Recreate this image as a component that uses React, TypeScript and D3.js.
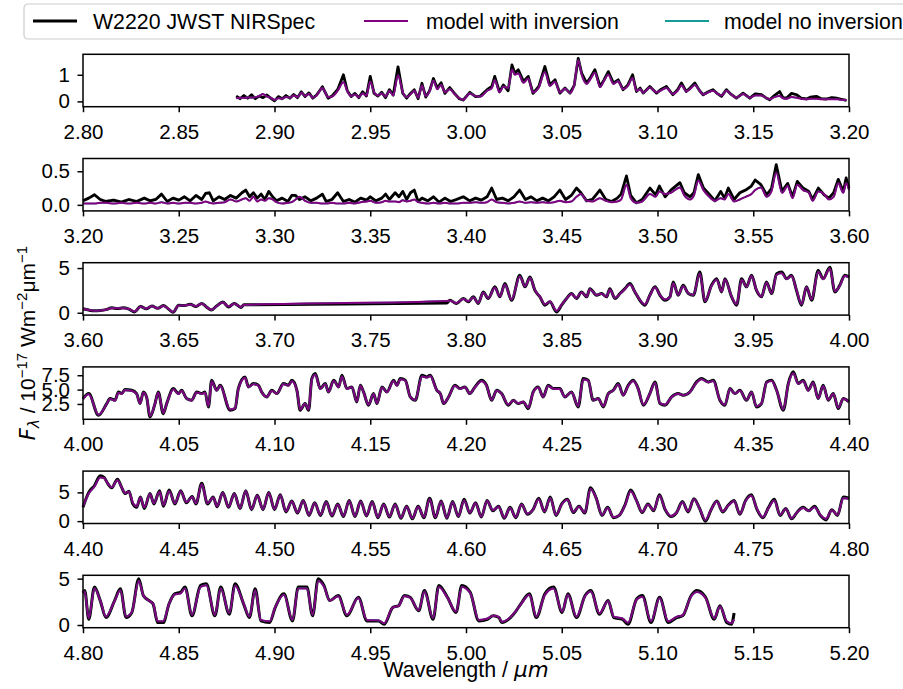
import React, { useEffect, useRef } from "react";
import * as d3 from "d3";

// wavelength windows (µm) and flux limits of the six rows
const panelRanges = [[2.8, 3.2], [3.2, 3.6], [3.6, 4.0], [4.0, 4.4], [4.4, 4.8], [4.8, 5.2]];
const panelYDomains = [[-0.2, 1.77], [-0.09, 0.69], [-0.26, 5.6], [-0.17, 8.95], [-0.41, 8.7], [-0.29, 5.36]];
const panelYTicks = [[0, 1], [0, 0.5], [0, 5], [2.5, 5, 7.5], [0, 5], [0, 5]];
const panelYFormats = ["d", ".1f", "d", ".1f", "d", "d"];
const panelErr = [0.05, 0.025, 0.08, 0.12, 0.12, 0.08];

const legendLabels = ["W2220 JWST NIRSpec", "model with inversion", "model no inversion"];

// row 1: 2.80 - 3.20
const p1Wave = [
  2.880, 2.882, 2.884, 2.886, 2.888, 2.890, 2.892, 2.894, 2.896, 2.898,
  2.900, 2.902, 2.904, 2.906, 2.908, 2.910, 2.912, 2.914, 2.916, 2.918,
  2.920, 2.922, 2.925, 2.928, 2.930, 2.933, 2.936, 2.938, 2.940, 2.942,
  2.944, 2.946, 2.948, 2.950, 2.952, 2.954, 2.956, 2.958, 2.960, 2.962,
  2.9645, 2.967, 2.969, 2.971, 2.973, 2.975, 2.977, 2.979, 2.981, 2.983,
  2.985, 2.987, 2.989, 2.9915, 2.994, 2.9965, 2.9985, 3.002, 3.005, 3.0075,
  3.011, 3.0135, 3.015, 3.0175, 3.0195, 3.022, 3.024, 3.0255, 3.0273, 3.030,
  3.0325, 3.035, 3.038, 3.0412, 3.0438, 3.0465, 3.049, 3.0517, 3.0543, 3.0565,
  3.0586, 3.0604, 3.063, 3.065, 3.0673, 3.070, 3.072, 3.0743, 3.077, 3.0795,
  3.082, 3.0845, 3.087, 3.089, 3.091, 3.0925, 3.096, 3.0995, 3.102, 3.1047,
  3.108, 3.1105, 3.1125, 3.115, 3.117, 3.1195, 3.122, 3.1238, 3.1265, 3.129,
  3.1315, 3.1334, 3.136, 3.1385, 3.1412, 3.1447, 3.1482, 3.151, 3.1543, 3.1565,
  3.1586, 3.161, 3.1638, 3.1655, 3.1673, 3.170, 3.1726, 3.175, 3.1778, 3.180,
  3.183, 3.1855, 3.1882, 3.191, 3.1934, 3.196, 3.1987,
];
const p1Flux = [
  0.20, 0.10, 0.22, 0.12, 0.25, 0.10, 0.20, 0.14, 0.24, 0.12,
  0.02, 0.18, 0.10, 0.22, 0.12, 0.26, 0.14, 0.36, 0.18, 0.32,
  0.12, 0.24, 0.55, 0.12, 0.20, 0.45, 1.00, 0.40, 0.18, 0.30,
  0.14, 0.36, 0.20, 0.94, 0.30, 0.20, 0.34, 0.14, 0.44, 0.24,
  1.30, 0.30, 0.12, 0.30, 0.44, 0.10, 0.68, 0.16, 0.40, 0.86,
  0.50, 0.70, 0.30, 0.52, 0.30, 0.10, 0.05, 0.34, 0.18, 0.20,
  0.44, 0.56, 0.94, 0.36, 0.62, 0.40, 1.37, 1.06, 1.19, 0.75,
  0.94, 0.30, 0.56, 1.31, 0.62, 0.81, 0.31, 0.50, 0.31, 0.60,
  1.62, 1.06, 0.69, 0.90, 1.19, 0.56, 0.80, 1.12, 0.69, 0.81,
  0.44, 0.62, 1.00, 0.37, 0.50, 0.31, 0.56, 0.31, 0.46, 0.56,
  0.25, 0.44, 0.69, 0.37, 0.50, 0.69, 0.40, 0.25, 0.36, 0.44,
  0.28, 0.19, 0.44, 0.26, 0.12, 0.31, 0.12, 0.28, 0.25, 0.14,
  0.06, 0.22, 0.37, 0.14, 0.12, 0.30, 0.25, 0.12, 0.09, 0.16,
  0.19, 0.10, 0.09, 0.14, 0.12, 0.08, 0.04,
];
const p1Model = [
  0.12, 0.14, 0.13, 0.15, 0.14, 0.16, 0.20, 0.28, 0.18, 0.14,
  0.06, 0.12, 0.10, 0.16, 0.14, 0.22, 0.16, 0.32, 0.20, 0.28,
  0.14, 0.22, 0.50, 0.16, 0.18, 0.40, 0.72, 0.38, 0.20, 0.26,
  0.16, 0.30, 0.22, 0.75, 0.34, 0.22, 0.30, 0.18, 0.40, 0.22,
  0.98, 0.34, 0.16, 0.26, 0.40, 0.14, 0.60, 0.20, 0.38, 0.78,
  0.46, 0.62, 0.34, 0.46, 0.28, 0.12, 0.06, 0.30, 0.20, 0.18,
  0.40, 0.50, 0.80, 0.34, 0.56, 0.50, 1.20, 1.00, 1.05, 0.70,
  0.86, 0.34, 0.52, 1.10, 0.58, 0.74, 0.34, 0.48, 0.32, 0.62,
  1.55, 1.00, 0.66, 0.84, 1.08, 0.54, 0.76, 1.00, 0.66, 0.76,
  0.46, 0.58, 0.88, 0.40, 0.46, 0.32, 0.52, 0.34, 0.42, 0.50,
  0.28, 0.40, 0.60, 0.38, 0.46, 0.62, 0.40, 0.26, 0.34, 0.40,
  0.28, 0.22, 0.40, 0.26, 0.14, 0.28, 0.14, 0.22, 0.22, 0.14,
  0.08, 0.16, 0.20, 0.12, 0.10, 0.16, 0.14, 0.10, 0.08, 0.10,
  0.10, 0.08, 0.08, 0.08, 0.08, 0.06, 0.05,
];

// row 2: 3.20 - 3.60
const p2Wave = [
  3.200, 3.203, 3.206, 3.209, 3.212, 3.216, 3.220, 3.224, 3.228, 3.232,
  3.235, 3.238, 3.241, 3.244, 3.247, 3.250, 3.253, 3.256, 3.259, 3.262,
  3.264, 3.266, 3.268, 3.271, 3.274, 3.277, 3.280, 3.283, 3.285, 3.287,
  3.289, 3.291, 3.293, 3.295, 3.297, 3.299, 3.301, 3.304, 3.307, 3.309,
  3.311, 3.313, 3.316, 3.319, 3.322, 3.325, 3.327, 3.330, 3.333, 3.336,
  3.339, 3.342, 3.345, 3.348, 3.350, 3.353, 3.356, 3.358, 3.360, 3.363,
  3.365, 3.367, 3.369, 3.371, 3.373, 3.375, 3.377, 3.380, 3.383, 3.386,
  3.389, 3.392, 3.395, 3.3986, 3.402, 3.405, 3.408, 3.411, 3.4134, 3.416,
  3.419, 3.422, 3.425, 3.428, 3.431, 3.434, 3.437, 3.440, 3.443, 3.446,
  3.449, 3.452, 3.455, 3.4577, 3.460, 3.463, 3.466, 3.4699, 3.473, 3.476,
  3.479, 3.481, 3.4838, 3.486, 3.489, 3.492, 3.4961, 3.499, 3.501, 3.504,
  3.507, 3.5117, 3.514, 3.517, 3.519, 3.5213, 3.524, 3.527, 3.530, 3.533,
  3.535, 3.537, 3.540, 3.543, 3.546, 3.549, 3.551, 3.554, 3.557, 3.5595,
  3.562, 3.565, 3.568, 3.5705, 3.573, 3.576, 3.579, 3.581, 3.584, 3.587,
  3.5895, 3.592, 3.5944, 3.597, 3.5985, 3.600,
];
const p2Flux = [
  0.06, 0.10, 0.15, 0.08, 0.05, 0.07, 0.04, 0.08, 0.05, 0.10,
  0.06, 0.08, 0.16, 0.05, 0.10, 0.07, 0.12, 0.06, 0.14, 0.08,
  0.17, 0.18, 0.06, 0.12, 0.08, 0.14, 0.10, 0.18, 0.22, 0.12,
  0.18, 0.10, 0.16, 0.08, 0.20, 0.12, 0.06, 0.10, 0.05, 0.14,
  0.14, 0.08, 0.12, 0.06, 0.10, 0.16, 0.05, 0.08, 0.18, 0.05,
  0.08, 0.04, 0.10, 0.07, 0.12, 0.06, 0.10, 0.16, 0.08, 0.18,
  0.12, 0.20, 0.08, 0.18, 0.22, 0.05, 0.10, 0.06, 0.12, 0.04,
  0.10, 0.05, 0.08, 0.12, 0.06, 0.10, 0.07, 0.12, 0.25, 0.08,
  0.10, 0.06, 0.12, 0.22, 0.08, 0.12, 0.06, 0.10, 0.06, 0.12,
  0.22, 0.08, 0.14, 0.25, 0.18, 0.06, 0.08, 0.22, 0.08, 0.05,
  0.10, 0.16, 0.43, 0.14, 0.03, 0.08, 0.25, 0.15, 0.28, 0.12,
  0.22, 0.33, 0.18, 0.12, 0.18, 0.45, 0.25, 0.16, 0.06, 0.20,
  0.10, 0.25, 0.08, 0.18, 0.22, 0.28, 0.37, 0.30, 0.15, 0.24,
  0.60, 0.20, 0.32, 0.12, 0.35, 0.25, 0.20, 0.08, 0.25, 0.15,
  0.10, 0.18, 0.38, 0.20, 0.40, 0.25,
];
const p2Model = [
  0.02, 0.02, 0.02, 0.03, 0.03, 0.02, 0.03, 0.02, 0.03, 0.02,
  0.03, 0.02, 0.04, 0.02, 0.03, 0.02, 0.03, 0.03, 0.02, 0.03,
  0.05, 0.03, 0.02, 0.03, 0.04, 0.08, 0.05, 0.08, 0.10, 0.06,
  0.12, 0.05, 0.08, 0.06, 0.10, 0.08, 0.04, 0.02, 0.03, 0.04,
  0.08, 0.12, 0.06, 0.03, 0.03, 0.02, 0.02, 0.03, 0.02, 0.02,
  0.03, 0.02, 0.04, 0.05, 0.06, 0.03, 0.04, 0.06, 0.05, 0.05,
  0.04, 0.07, 0.05, 0.06, 0.08, 0.04, 0.03, 0.02, 0.03, 0.02,
  0.03, 0.02, 0.02, 0.03, 0.03, 0.04, 0.03, 0.04, 0.08, 0.04,
  0.03, 0.02, 0.03, 0.05, 0.03, 0.04, 0.03, 0.04, 0.03, 0.04,
  0.06, 0.04, 0.05, 0.12, 0.16, 0.06, 0.05, 0.10, 0.06, 0.04,
  0.05, 0.08, 0.30, 0.10, 0.03, 0.05, 0.16, 0.12, 0.20, 0.16,
  0.18, 0.26, 0.14, 0.08, 0.14, 0.36, 0.22, 0.12, 0.06, 0.10,
  0.08, 0.16, 0.05, 0.08, 0.12, 0.16, 0.22, 0.26, 0.12, 0.20,
  0.48, 0.18, 0.28, 0.10, 0.30, 0.22, 0.18, 0.06, 0.20, 0.16,
  0.08, 0.12, 0.32, 0.18, 0.32, 0.22,
];

// row 3: 3.60 - 4.00 (gap in the data between 3.684 and 3.790)
const p3Wave = [
  3.600, 3.603, 3.606, 3.609, 3.612, 3.615, 3.618, 3.621, 3.624, 3.627,
  3.630, 3.633, 3.636, 3.639, 3.642, 3.645, 3.647, 3.650, 3.653, 3.656,
  3.659, 3.662, 3.665, 3.667, 3.670, 3.673, 3.676, 3.679, 3.6825, 3.684,
  3.790, 3.7916, 3.795, 3.7986, 3.8012, 3.8038, 3.8064, 3.809, 3.8116, 3.8151,
  3.8177, 3.8203, 3.8238, 3.8281, 3.8308, 3.8334, 3.836, 3.8386, 3.8412, 3.8438,
  3.8473, 3.8499, 3.8525, 3.8551, 3.8577, 3.8603, 3.863, 3.8647, 3.8682, 3.8708,
  3.8734, 3.8751, 3.8778, 3.8804, 3.883, 3.8856, 3.8882, 3.8908, 3.8934, 3.896,
  3.8987, 3.9013, 3.9039, 3.9065, 3.9082, 3.9108, 3.9134, 3.9161, 3.9187, 3.9221,
  3.9248, 3.9282, 3.9309, 3.9335, 3.9352, 3.9387, 3.9413, 3.9439, 3.9465, 3.9491,
  3.9517, 3.9543, 3.9569, 3.9596, 3.9622, 3.9648, 3.9674, 3.970, 3.9726, 3.9752,
  3.9778, 3.9805, 3.9839, 3.9865, 3.990, 3.9926, 3.9952, 3.9978, 4.000,
];
const p3Flux = [
  0.45, 0.30, 0.22, 0.25, 0.35, 0.55, 0.48, 0.55, 0.40, 0.10,
  0.70, 0.45, 0.75, 0.50, 0.80, 0.35, 0.05, 0.85, 0.80, 0.95,
  0.70, 1.05, 0.55, 0.30, 0.80, 1.20, 0.65, 1.05, 0.60, 0.90,
  1.08, 1.40, 1.04, 1.60, 1.22, 1.78, 1.04, 2.33, 1.60, 2.90,
  1.78, 3.26, 1.40, 4.20, 2.90, 4.00, 2.50, 1.78, 0.85, 1.22,
  0.10, 0.85, 1.60, 2.15, 1.60, 2.33, 1.78, 2.70, 1.96, 2.15,
  1.78, 2.70, 1.60, 2.15, 2.70, 3.26, 2.33, 1.40, 0.85, 1.96,
  2.90, 1.96, 1.40, 1.78, 3.44, 1.96, 3.07, 2.15, 1.96, 4.55,
  1.22, 3.07, 3.80, 2.33, 3.80, 1.78, 0.85, 3.80, 2.90, 4.20,
  2.50, 1.78, 3.44, 2.15, 4.37, 4.55, 3.80, 4.20, 2.50, 0.85,
  2.90, 1.40, 4.74, 3.80, 5.10, 2.33, 3.07, 4.20, 4.00,
];
const p3Model = [
  0.42, 0.32, 0.24, 0.26, 0.34, 0.52, 0.50, 0.52, 0.42, 0.14,
  0.66, 0.48, 0.72, 0.52, 0.76, 0.38, 0.10, 0.80, 0.82, 0.92,
  0.74, 1.02, 0.58, 0.34, 0.76, 1.16, 0.70, 1.00, 0.65, 0.88,
  1.32, 1.35, 1.10, 1.55, 1.28, 1.72, 1.10, 2.25, 1.66, 2.80,
  1.84, 3.15, 1.48, 4.05, 2.95, 3.90, 2.55, 1.80, 0.95, 1.25,
  0.22, 0.90, 1.58, 2.10, 1.65, 2.28, 1.82, 2.62, 2.00, 2.12,
  1.82, 2.60, 1.66, 2.12, 2.66, 3.15, 2.35, 1.45, 0.95, 1.92,
  2.82, 2.00, 1.48, 1.75, 3.30, 2.02, 2.98, 2.18, 2.00, 4.40,
  1.32, 3.00, 3.70, 2.38, 3.72, 1.82, 0.95, 3.70, 2.92, 4.10,
  2.55, 1.82, 3.35, 2.20, 4.25, 4.42, 3.78, 4.10, 2.55, 0.95,
  2.85, 1.50, 4.60, 3.78, 4.95, 2.40, 3.02, 4.10, 3.95,
];

// row 4: 4.00 - 4.40
const p4Wave = [
  4.000, 4.003, 4.0081, 4.0124, 4.0141, 4.0167, 4.0185, 4.0202, 4.0219, 4.0254,
  4.028, 4.0298, 4.0315, 4.0332, 4.035, 4.0376, 4.0393, 4.0419, 4.0437, 4.0472,
  4.0498, 4.0515, 4.0541, 4.0567, 4.0594, 4.062, 4.0637, 4.0655, 4.0672, 4.0698,
  4.0716, 4.0768, 4.0794, 4.0811, 4.0846, 4.0864, 4.089, 4.0916, 4.0933, 4.096,
  4.0986, 4.1012, 4.1047, 4.1073, 4.1091, 4.1117, 4.1134, 4.116, 4.1178, 4.1195,
  4.1213, 4.1239, 4.1265, 4.1282, 4.1309, 4.1335, 4.1352, 4.1378, 4.1404, 4.143,
  4.1448, 4.1465, 4.1491, 4.1517, 4.1535, 4.1561, 4.1587, 4.1622, 4.1639, 4.1657,
  4.1683, 4.1709, 4.1735, 4.177, 4.1796, 4.1813, 4.1848, 4.1866, 4.1883, 4.1909,
  4.1942, 4.1968, 4.1994, 4.202, 4.2047, 4.2081, 4.2107, 4.2134, 4.216, 4.2186,
  4.2221, 4.2247, 4.2273, 4.2299, 4.2325, 4.2351, 4.2377, 4.2403, 4.2429, 4.2456,
  4.249, 4.2516, 4.2551, 4.2586, 4.2612, 4.2638, 4.2664, 4.2691, 4.2717, 4.2743,
  4.2769, 4.2795, 4.2821, 4.2847, 4.2873, 4.2899, 4.2926, 4.296, 4.2987, 4.3013,
  4.3039, 4.3074, 4.3108, 4.3134, 4.3169, 4.3204, 4.323, 4.3265, 4.3291, 4.3326,
  4.3352, 4.3378, 4.3404, 4.343, 4.3465, 4.3491, 4.3517, 4.3543, 4.357, 4.3596,
  4.3622, 4.3657, 4.3683, 4.3709, 4.3735, 4.3761, 4.3787, 4.3813, 4.3839, 4.3865,
  4.3892, 4.3918, 4.3944, 4.397, 4.400,
];
const p4Flux = [
  3.43, 4.30, 0.52, 2.56, 3.43, 3.14, 4.59, 4.30, 5.00, 4.88,
  4.30, 2.56, 4.59, 3.72, 0.23, 2.56, 4.59, 0.81, 2.56, 5.17,
  4.30, 4.88, 3.43, 3.14, 4.59, 4.30, 4.59, 1.98, 6.63, 4.88,
  5.76, 1.40, 1.69, 5.17, 7.21, 5.47, 6.05, 5.76, 4.59, 3.72,
  4.88, 4.30, 6.05, 5.76, 6.63, 4.88, 1.40, 2.56, 1.40, 6.92,
  7.79, 5.17, 6.05, 4.59, 6.63, 5.47, 7.50, 5.17, 5.47, 2.85,
  5.76, 4.59, 2.27, 4.30, 2.56, 5.47, 4.59, 6.63, 5.76, 6.92,
  6.63, 3.72, 3.14, 7.50, 7.21, 7.50, 4.88, 4.30, 2.56, 3.72,
  5.76, 5.17, 5.47, 4.30, 5.47, 6.63, 5.76, 3.14, 4.88, 4.30,
  2.27, 3.14, 2.56, 2.85, 1.69, 4.59, 5.47, 3.72, 5.76, 5.17,
  5.17, 3.72, 4.59, 1.98, 6.92, 6.63, 3.14, 3.43, 1.98, 4.30,
  4.88, 6.05, 4.01, 5.76, 6.63, 5.17, 2.27, 4.30, 6.34, 2.56,
  2.27, 3.72, 4.30, 4.01, 4.59, 6.34, 6.92, 6.34, 6.63, 3.14,
  2.27, 5.17, 4.30, 4.88, 3.14, 4.59, 1.98, 2.56, 6.34, 6.63,
  4.88, 1.40, 6.05, 8.10, 6.05, 6.63, 4.88, 6.34, 3.43, 5.76,
  3.14, 4.30, 1.69, 3.43, 2.85,
];
const p4Model = [
  3.35, 4.20, 0.62, 2.50, 3.35, 3.10, 4.45, 4.25, 4.90, 4.80,
  4.25, 2.62, 4.50, 3.70, 0.40, 2.55, 4.50, 0.95, 2.55, 5.05,
  4.25, 4.80, 3.45, 3.15, 4.50, 4.25, 4.50, 2.10, 6.45, 4.85,
  5.65, 1.55, 1.75, 5.05, 7.05, 5.45, 5.95, 5.70, 4.55, 3.75,
  4.80, 4.28, 5.95, 5.70, 6.45, 4.85, 1.55, 2.55, 1.55, 6.75,
  7.60, 5.15, 5.95, 4.60, 6.50, 5.45, 7.30, 5.15, 5.40, 2.95,
  5.65, 4.55, 2.40, 4.25, 2.62, 5.38, 4.55, 6.50, 5.72, 6.80,
  6.55, 3.75, 3.20, 7.30, 7.10, 7.35, 4.85, 4.28, 2.62, 3.70,
  5.65, 5.15, 5.40, 4.30, 5.40, 6.45, 5.70, 3.20, 4.82, 4.30,
  2.40, 3.15, 2.62, 2.88, 1.85, 4.50, 5.35, 3.75, 5.62, 5.15,
  5.10, 3.75, 4.52, 2.12, 6.75, 6.55, 3.18, 3.42, 2.10, 4.25,
  4.82, 5.90, 4.05, 5.65, 6.48, 5.15, 2.40, 4.28, 6.20, 2.65,
  2.38, 3.70, 4.28, 4.02, 4.55, 6.20, 6.80, 6.28, 6.50, 3.20,
  2.38, 5.10, 4.30, 4.80, 3.20, 4.52, 2.12, 2.60, 6.20, 6.48,
  4.85, 1.55, 5.92, 7.85, 6.00, 6.50, 4.85, 6.20, 3.48, 5.62,
  3.22, 4.28, 1.85, 3.40, 2.88,
];

// row 5: 4.40 - 4.80
const p5Wave = [
  4.400, 4.403, 4.406, 4.409, 4.411, 4.413, 4.415, 4.418, 4.420, 4.422,
  4.424, 4.426, 4.428, 4.430, 4.432, 4.435, 4.437, 4.440, 4.442, 4.445,
  4.448, 4.451, 4.454, 4.457, 4.459, 4.462, 4.465, 4.468, 4.470, 4.473,
  4.476, 4.479, 4.482, 4.485, 4.488, 4.491, 4.494, 4.497, 4.500, 4.503,
  4.506, 4.509, 4.512, 4.515, 4.518, 4.521, 4.524, 4.527, 4.530, 4.533,
  4.536, 4.539, 4.542, 4.545, 4.548, 4.551, 4.554, 4.557, 4.560, 4.563,
  4.566, 4.569, 4.572, 4.575, 4.578, 4.581, 4.584, 4.587, 4.590, 4.593,
  4.596, 4.599, 4.602, 4.605, 4.608, 4.611, 4.614, 4.617, 4.620, 4.623,
  4.626, 4.629, 4.632, 4.635, 4.638, 4.641, 4.644, 4.647, 4.650, 4.653,
  4.656, 4.659, 4.662, 4.665, 4.668, 4.671, 4.674, 4.677, 4.680, 4.683,
  4.686, 4.689, 4.692, 4.695, 4.698, 4.701, 4.704, 4.707, 4.710, 4.713,
  4.716, 4.719, 4.722, 4.725, 4.728, 4.731, 4.734, 4.737, 4.740, 4.743,
  4.746, 4.749, 4.752, 4.755, 4.758, 4.761, 4.764, 4.767, 4.770, 4.773,
  4.776, 4.779, 4.782, 4.785, 4.788, 4.791, 4.794, 4.797, 4.800,
];
const p5Flux = [
  2.4, 5.0, 6.2, 7.9, 7.6, 6.5, 5.8, 7.3, 6.0, 4.8,
  5.2, 3.0, 2.4, 4.2, 2.2, 4.8, 3.0, 5.3, 2.6, 5.4,
  3.0, 5.3, 3.2, 4.3, 3.0, 6.6, 3.0, 4.2, 2.5, 5.0,
  2.4, 4.8, 2.2, 5.3, 2.0, 4.5, 2.0, 5.0, 2.0, 4.6,
  1.6, 3.5, 1.4, 3.6, 1.0, 3.2, 1.0, 3.4, 0.9, 3.0,
  0.8, 3.6, 0.8, 3.5, 0.9, 3.4, 0.6, 3.0, 0.7, 3.0,
  0.5, 2.6, 0.4, 2.6, 0.6, 4.0, 0.6, 3.5, 0.5, 3.4,
  0.8, 3.8, 1.4, 3.2, 0.7, 3.6, 1.8, 2.6, 0.5, 2.4,
  0.6, 3.0, 1.2, 2.0, 4.0, 1.6, 4.2, 1.0, 3.0, 3.8,
  1.5, 2.6, 1.4, 5.8, 4.0, 1.0, 2.4, 0.6, 1.0, 2.8,
  5.4, 3.6, 1.5, 3.0, 1.8, 4.6, 2.0, 0.8, 1.5, 3.4,
  1.6, 3.9, 2.2, 0.0, 2.0, 3.5, 1.6, 2.8, 3.6, 1.2,
  3.6, 4.6, 2.0, 0.6, 2.4, 3.8, 1.0, 2.2, 0.4, 1.6,
  2.4, 1.8, 2.6, 1.0, 0.2, 2.0, 1.0, 4.2, 4.0,
];
const p5Model = [
  2.5, 4.8, 6.0, 7.6, 7.5, 6.5, 5.9, 7.1, 6.0, 4.9,
  5.1, 3.2, 2.6, 4.1, 2.4, 4.7, 3.1, 5.1, 2.8, 5.2,
  3.1, 5.2, 3.3, 4.2, 3.1, 6.4, 3.1, 4.1, 2.6, 4.9,
  2.5, 4.7, 2.3, 5.2, 2.1, 4.4, 2.1, 4.9, 2.1, 4.5,
  1.7, 3.4, 1.5, 3.5, 1.1, 3.1, 1.1, 3.3, 1.0, 2.9,
  0.9, 3.5, 0.9, 3.4, 1.0, 3.3, 0.7, 2.9, 0.8, 2.9,
  0.6, 2.5, 0.5, 2.5, 0.7, 3.8, 0.7, 3.4, 0.6, 3.3,
  0.9, 3.6, 1.5, 3.1, 0.8, 3.5, 1.9, 2.5, 0.6, 2.3,
  0.7, 2.9, 1.3, 2.0, 3.8, 1.7, 4.0, 1.1, 2.9, 3.7,
  1.6, 2.5, 1.5, 5.6, 4.0, 1.1, 2.3, 0.7, 1.0, 2.7,
  5.2, 3.6, 1.6, 2.9, 1.9, 4.4, 2.1, 0.9, 1.5, 3.3,
  1.7, 3.8, 2.2, 0.2, 2.0, 3.4, 1.7, 2.7, 3.5, 1.3,
  3.5, 4.4, 2.1, 0.7, 2.3, 3.6, 1.1, 2.1, 0.5, 1.6,
  2.3, 1.8, 2.4, 1.1, 0.4, 1.9, 1.1, 4.0, 3.9,
];

// row 6: 4.80 - 5.20 (data end at 5.14)
const p6Wave = [
  4.800, 4.8009, 4.803, 4.806, 4.809, 4.812, 4.8165, 4.8195, 4.8225, 4.8255,
  4.8291, 4.8315, 4.8345, 4.8366, 4.839, 4.8419, 4.8449, 4.8479, 4.8509, 4.8533,
  4.8569, 4.8614, 4.8644, 4.8689, 4.8719, 4.8764, 4.8794, 4.8839, 4.8869, 4.8899,
  4.8929, 4.8974, 4.9004, 4.9049, 4.9094, 4.9124, 4.9169, 4.9199, 4.9228, 4.9258,
  4.9288, 4.9333, 4.9378, 4.9438, 4.9483, 4.9543, 4.9573, 4.9618, 4.9648, 4.9678,
  4.9708, 4.9753, 4.9783, 4.9828, 4.9858, 4.9903, 4.9948, 4.9978, 5.0022, 5.0067,
  5.0112, 5.0142, 5.0172, 5.0187, 5.0232, 5.0262, 5.0292, 5.0331, 5.0367, 5.0412,
  5.0457, 5.0502, 5.0532, 5.0577, 5.0622, 5.0652, 5.0697, 5.0742, 5.0772, 5.0817,
  5.0846, 5.0891, 5.0921, 5.0966, 5.1011, 5.1056, 5.1101, 5.1131, 5.1176, 5.1206,
  5.1251, 5.1296, 5.1326, 5.1362, 5.1386, 5.140,
];
const p6Flux = [
  3.50, 3.72, 0.62, 4.09, 2.63, 0.80, 2.63, 3.90, 0.80, 1.35,
  5.00, 3.18, 2.63, 2.26, 0.26, 0.26, 2.26, 3.36, 3.54, 4.09,
  0.99, 4.27, 4.45, 0.99, 4.09, 1.17, 4.45, 2.26, 0.80, 3.90,
  0.44, 0.26, 1.90, 3.36, 0.44, 4.09, 4.09, 0.99, 5.00, 4.27,
  2.63, 3.18, 0.99, 2.99, 0.44, 0.44, 0.07, 1.90, 2.08, 3.18,
  2.99, 1.53, 3.72, 0.62, 4.27, 2.99, 1.35, 4.27, 3.54, 0.44,
  0.62, 0.99, 0.80, 0.26, 0.80, 1.53, 2.45, 3.36, 0.80, 3.36,
  4.09, 1.35, 3.36, 0.80, 3.18, 3.72, 1.17, 2.63, 0.80, 0.62,
  0.07, 2.81, 3.18, 0.26, 2.99, 0.26, 0.80, 0.99, 3.18, 3.72,
  2.99, 0.62, 2.08, 0.26, 0.07, 1.30,
];
const p6Model = [
  3.40, 3.60, 0.75, 3.95, 2.65, 0.92, 2.60, 3.75, 0.92, 1.40,
  4.75, 3.20, 2.60, 2.30, 0.40, 0.40, 2.25, 3.30, 3.40, 3.95,
  1.10, 4.10, 4.30, 1.10, 3.95, 1.28, 4.25, 2.30, 0.92, 3.75,
  0.55, 0.40, 1.92, 3.25, 0.55, 3.95, 3.95, 1.10, 4.75, 4.15,
  2.65, 3.10, 1.10, 2.90, 0.55, 0.50, 0.20, 1.90, 2.05, 3.10,
  2.95, 1.60, 3.60, 0.75, 4.10, 2.95, 1.45, 4.10, 3.45, 0.55,
  0.70, 1.00, 0.85, 0.35, 0.85, 1.55, 2.40, 3.25, 0.92, 3.25,
  3.95, 1.45, 3.25, 0.92, 3.10, 3.60, 1.28, 2.55, 0.90, 0.70,
  0.25, 2.75, 3.05, 0.40, 2.90, 0.40, 0.90, 1.05, 3.10, 3.55,
  2.90, 0.72, 2.00, 0.40, 0.20, 0.60,
];

const waves = [p1Wave, p2Wave, p3Wave, p4Wave, p5Wave, p6Wave];
const fluxes = [p1Flux, p2Flux, p3Flux, p4Flux, p5Flux, p6Flux];
const models = [p1Model, p2Model, p3Model, p4Model, p5Model, p6Model];

const FONT = "'Liberation Sans', Arial, Helvetica, sans-serif";
const DATA_COLOR = "#000000";
const INV_COLOR = "#800080";
const NOINV_COLOR = "#169c96";

export default function App() {
  const ref = useRef<SVGSVGElement>(null);

  useEffect(() => {
    const svg = d3.select(ref.current);
    svg.selectAll("*").remove();

    const left = 83;
    const right = 849;
    const top0 = 54.3;
    const rowStep = 104.2;
    const ph = 52.4;

    panelRanges.forEach((range, i) => {
      const top = top0 + i * rowStep;
      const x = d3.scaleLinear().domain(range).range([left, right]);
      const y = d3.scaleLinear().domain(panelYDomains[i]).range([top + ph, top]);
      const w = waves[i];
      const f = fluxes[i];
      const m = models[i];
      const n = Math.min(w.length, f.length, m.length);
      const idx = d3.range(n);
      const err = panelErr[i];
      const smooth = i >= 2;

      const g = svg.append("g");

      // error band
      g.append("path")
        .attr(
          "d",
          d3
            .area<number>()
            .x((k) => x(w[k]))
            .y0((k) => y(f[k] - err))
            .y1((k) => y(f[k] + err))
            .curve(smooth ? d3.curveMonotoneX : d3.curveLinear)(idx)
        )
        .attr("fill", "#bdbdbd")
        .attr("opacity", 0.8);

      // observed spectrum
      g.append("path")
        .attr(
          "d",
          d3
            .line<number>()
            .x((k) => x(w[k]))
            .y((k) => y(f[k]))
            .curve(smooth ? d3.curveMonotoneX : d3.curveLinear)(idx)
        )
        .attr("fill", "none")
        .attr("stroke", DATA_COLOR)
        .attr("stroke-width", smooth ? 3 : 2.8)
        .attr("stroke-linejoin", "round");

      const modelLine = d3
        .line<number>()
        .x((k) => x(w[k]))
        .y((k) => y(m[k]))
        .curve(d3.curveMonotoneX);

      // model without inversion sits underneath
      g.append("path")
        .attr("d", modelLine(idx))
        .attr("fill", "none")
        .attr("stroke", NOINV_COLOR)
        .attr("stroke-width", 1.6);

      g.append("path")
        .attr("d", modelLine(idx))
        .attr("fill", "none")
        .attr("stroke", INV_COLOR)
        .attr("stroke-width", 2);

      // frame
      g.append("rect")
        .attr("x", left)
        .attr("y", top)
        .attr("width", right - left)
        .attr("height", ph)
        .attr("fill", "none")
        .attr("stroke", "#000")
        .attr("stroke-width", 1.5);

      // x axis
      const xt = d3.range(9).map((k) => range[0] + k * 0.05);
      const xa = g
        .append("g")
        .attr("transform", `translate(0,${top + ph})`)
        .call(
          d3
            .axisBottom(x)
            .tickValues(xt)
            .tickFormat(d3.format(".2f"))
            .tickSize(5.5)
            .tickSizeOuter(0)
            .tickPadding(12)
        );
      xa.select(".domain").remove();
      xa.selectAll("line").attr("stroke-width", 1.5);
      xa.selectAll("text").attr("font-size", 20.5).attr("font-family", FONT).attr("fill", "#000");

      // y axis
      const ya = g
        .append("g")
        .attr("transform", `translate(${left},0)`)
        .call(
          d3
            .axisLeft(y)
            .tickValues(panelYTicks[i])
            .tickFormat(d3.format(panelYFormats[i]))
            .tickSize(5.5)
            .tickSizeOuter(0)
            .tickPadding(7.5)
        );
      ya.select(".domain").remove();
      ya.selectAll("line").attr("stroke-width", 1.5);
      ya.selectAll("text").attr("font-size", 20.5).attr("font-family", FONT).attr("fill", "#000");
    });

    // legend
    const lg = svg.append("g");
    lg.append("rect")
      .attr("x", 24)
      .attr("y", 4)
      .attr("width", 900)
      .attr("height", 35)
      .attr("rx", 4)
      .attr("fill", "#fff")
      .attr("stroke", "#cccccc")
      .attr("stroke-width", 1.2);
    const legendColors = [DATA_COLOR, INV_COLOR, NOINV_COLOR];
    const legendWidths = [3, 2, 2];
    const handleX = [33, 364, 665];
    const textX = [93, 426, 724];
    legendLabels.forEach((lab, k) => {
      lg.append("line")
        .attr("x1", handleX[k])
        .attr("x2", handleX[k] + 44)
        .attr("y1", 21)
        .attr("y2", 21)
        .attr("stroke", legendColors[k])
        .attr("stroke-width", legendWidths[k]);
      lg.append("text")
        .attr("x", textX[k])
        .attr("y", 28.5)
        .attr("font-size", 21.3)
        .attr("font-family", FONT)
        .text(lab);
    });

    // axis titles
    const xl = svg
      .append("text")
      .attr("x", 466)
      .attr("y", 677)
      .attr("text-anchor", "middle")
      .attr("font-size", 21.5)
      .attr("font-family", FONT);
    xl.append("tspan").text("Wavelength / ");
    xl.append("tspan").attr("font-style", "italic").attr("font-family", "'DejaVu Sans', sans-serif").text("μm");

    const yl = svg
      .append("text")
      .attr("transform", "translate(35,343) rotate(-90)")
      .attr("text-anchor", "middle")
      .attr("font-size", 21)
      .attr("font-family", FONT);
    yl.append("tspan").attr("font-style", "italic").attr("font-family", "'DejaVu Sans', sans-serif").text("F");
    yl.append("tspan").attr("font-style", "italic").attr("font-family", "'DejaVu Sans', sans-serif").attr("font-size", 15).attr("dy", 4).text("λ");
    yl.append("tspan").attr("dy", -4).text(" / 10");
    yl.append("tspan").attr("font-size", 15).attr("dy", -8).text("−17");
    yl.append("tspan").attr("dy", 8).text(" Wm");
    yl.append("tspan").attr("font-size", 15).attr("dy", -8).text("−2");
    yl.append("tspan").attr("dy", 8).text("μm");
    yl.append("tspan").attr("font-size", 15).attr("dy", -8).text("−1");
  }, []);

  return (
    <svg
      ref={ref}
      width={903}
      height={689}
      style={{ position: "absolute", left: 0, top: 0, background: "#fff" }}
    />
  );
}
